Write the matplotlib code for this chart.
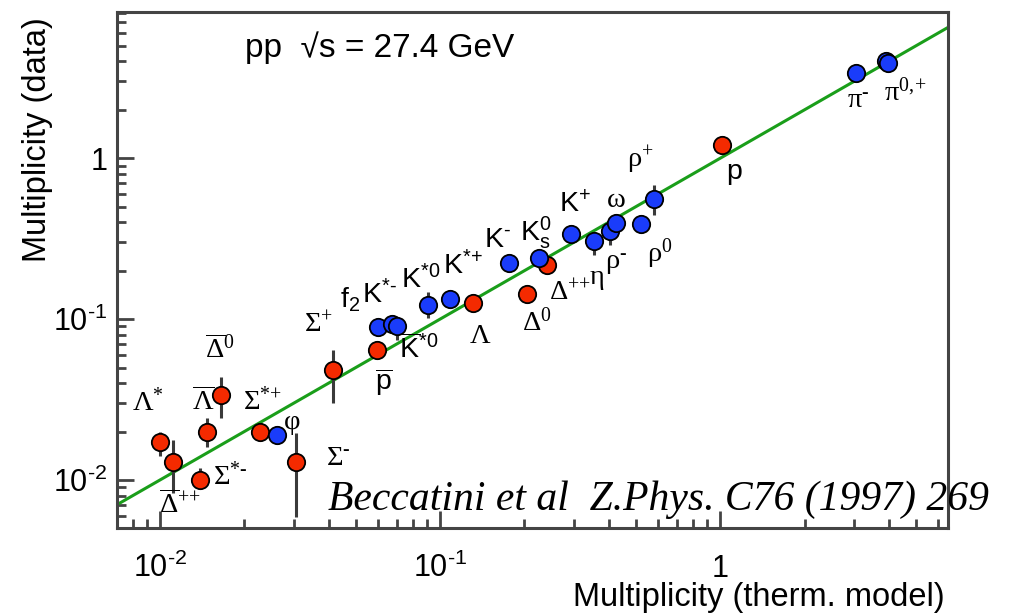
import matplotlib
matplotlib.use('Agg')
import matplotlib.pyplot as plt
from matplotlib.ticker import FixedLocator, LogLocator, FuncFormatter, NullFormatter
import numpy as np

plt.rcParams['font.family'] = 'Liberation Sans'
plt.rcParams['mathtext.default'] = 'regular'

# baryons (red): thermal-model multiplicity, measured multiplicity, error range
red_labels = [r'$Λ^{*}$', r'$\overline{Δ}^{{+}{+}}$', r'$Σ^{*‐}$', r'$\overline{Λ}$', r'$\overline{Δ}^{0}$',
              r'$Σ^{*{+}}$', r'$Σ^{‐}$', r'$Σ^{{+}}$', r'$\overline{p}$', 'Λ', r'$Δ^{0}$', r'$Δ^{{+}{+}}$', 'p']
red_model = [0.0100, 0.0111, 0.0139, 0.0147, 0.0165, 0.0228, 0.0306, 0.0416, 0.0597, 0.1315, 0.205, 0.240, 1.016]
red_data = [0.0171, 0.0129, 0.0100, 0.0200, 0.0337, 0.0200, 0.0129, 0.0485, 0.0642, 0.1252, 0.1429, 0.2163, 1.204]
red_lo = [0.0140, 0.0083, 0.0091, 0.0160, 0.0243, 0.0190, 0.0059, 0.0301, 0.0610, 0.1200, 0.1380, 0.2100, 1.170]
red_hi = [0.0200, 0.0177, 0.0119, 0.0243, 0.0437, 0.0210, 0.0196, 0.0641, 0.0710, 0.1300, 0.1480, 0.2230, 1.240]

# mesons (blue)
blue_labels = ['φ', r'$f_{2}$', r'$K^{*‐}$', r'$\overline{K}^{*0}$', r'$K^{*0}$', r'$K^{*{+}}$', r'$K^{‐}$',
               r'$K^{0}_{s}$', r'$K^{{+}}$', 'η', r'$ρ^{‐}$', 'ω', r'$ρ^{0}$', r'$ρ^{{+}}$', r'$π^{‐}$',
               r'$π^{0,\!{+}}$', '']
blue_model = [0.0261, 0.0602, 0.0672, 0.0700, 0.0908, 0.1080, 0.1768, 0.2245, 0.2924, 0.3527,
              0.4046, 0.4251, 0.5208, 0.5779, 3.06, 3.92, 3.96]
blue_data = [0.0191, 0.0891, 0.0931, 0.0906, 0.1222, 0.1330, 0.2238, 0.2382, 0.3357, 0.3051,
             0.3534, 0.3930, 0.3875, 0.5562, 3.39, 4.02, 3.88]
blue_lo = [0.0185, 0.0830, 0.0880, 0.0741, 0.1014, 0.1290, 0.2180, 0.2320, 0.3270, 0.2497,
           0.2880, 0.3800, 0.3800, 0.4426, 3.30, 3.90, 3.80]
blue_hi = [0.0197, 0.0950, 0.1000, 0.1014, 0.1470, 0.1370, 0.2300, 0.2440, 0.3440, 0.3150,
           0.3650, 0.4060, 0.3950, 0.6800, 3.48, 4.14, 3.96]

# label offsets from their marker, in pixels (right, down)
red_offsets = [(-12, -40), (7, 43), (30, -4), (-4, -30), (-1, -45), (2, -30), (42, -4),
               (-15, -45), (7, 32), (7, 33), (9, 28), (23, 28), (12, 27)]
blue_offsets = [(15, -12), (-28, -27), (-12, -29), (22, 24), (-8, -25), (13, -33), (-12, -23),
                (-3, -26), (4, -30), (4, 36), (6, 35), (0, -23), (19, 29), (-13, -39), (2, 29),
                (19, 31), (0, 0)]

xlim = (0.00702, 6.5)
ylim = (0.00503, 8.1)
red = '#f42a00'
blue = '#1a3cfa'
GREEK = 'ΛΔΣφηωρπ'


def add_points(ax, x, y, lo, hi, color, labels, offsets, z):
    x = np.array(x)
    y = np.array(y)
    yerr = [y - np.array(lo), np.array(hi) - y]
    ax.errorbar(x, y, yerr=yerr, fmt='none', ecolor='#3a3a3a', elinewidth=2.2,
                capsize=0, zorder=z)
    ax.plot(x, y, 'o', ms=12.5, mfc=color, mec='k', mew=1.3, zorder=z + 1)
    for xi, yi, lab, (dx, dy) in zip(x, y, labels, offsets):
        if not lab:
            continue
        fam = 'Liberation Serif' if any(c in GREEK for c in lab) else 'Liberation Sans'
        ax.annotate(lab, xy=(xi, yi), xytext=(dx * 0.72, -dy * 0.72),
                    textcoords='offset points', ha='center', va='center',
                    fontsize=20.5, family=fam, zorder=5)


fig = plt.figure(figsize=(10.27, 6.16), dpi=100)
ax = fig.add_axes([0.1139, 0.1429, 0.8092, 0.8376])
ax.set_xscale('log')
ax.set_yscale('log')
ax.set_xlim(*xlim)
ax.set_ylim(*ylim)

# thermal model = data
ax.plot(xlim, xlim, color='#1a9e1a', lw=2.2, zorder=2)

add_points(ax, red_model, red_data, red_lo, red_hi, red, red_labels, red_offsets, 3)
add_points(ax, blue_model, blue_data, blue_lo, blue_hi, blue, blue_labels, blue_offsets, 6)

fmt = FuncFormatter(lambda v, p: '1' if abs(v - 1) < 1e-9 else r'$10^{‐%d}$' % -round(np.log10(v)))
for axis in (ax.xaxis, ax.yaxis):
    axis.set_major_locator(FixedLocator([0.01, 0.1, 1]))
    axis.set_minor_locator(LogLocator(base=10, subs=np.arange(2, 10), numticks=20))
    axis.set_major_formatter(fmt)
    axis.set_minor_formatter(NullFormatter())

ax.tick_params(which='both', direction='in', width=2.0, color='#444444',
               top=False, right=False, labelsize=22)
ax.tick_params(which='major', length=12)
ax.tick_params(which='minor', length=6.5)
ax.tick_params(axis='x', pad=35)
ax.tick_params(axis='y', pad=7)
plt.setp(ax.get_xticklabels(), va='baseline')
plt.setp(ax.get_yticklabels(), va='center_baseline')
for sp in ax.spines.values():
    sp.set_linewidth(2.2)
    sp.set_color('#444444')

fig.text(0.9202, 0.016, 'Multiplicity (therm. model)', ha='right', va='baseline', fontsize=23.5)
fig.text(0.037, 0.773, 'Multiplicity (data)', rotation=90, ha='center', va='center', fontsize=23.5)

fig.text(0.2386, 0.922, 'pp  √s = 27.4 GeV', ha='left', va='center', fontsize=24)
fig.text(0.3194, 0.1883, 'Beccatini et al  Z.Phys. C76 (1997) 269', ha='left', va='center',
         fontsize=30, family='Liberation Serif', style='italic')

fig.savefig('out.png', dpi=100)
